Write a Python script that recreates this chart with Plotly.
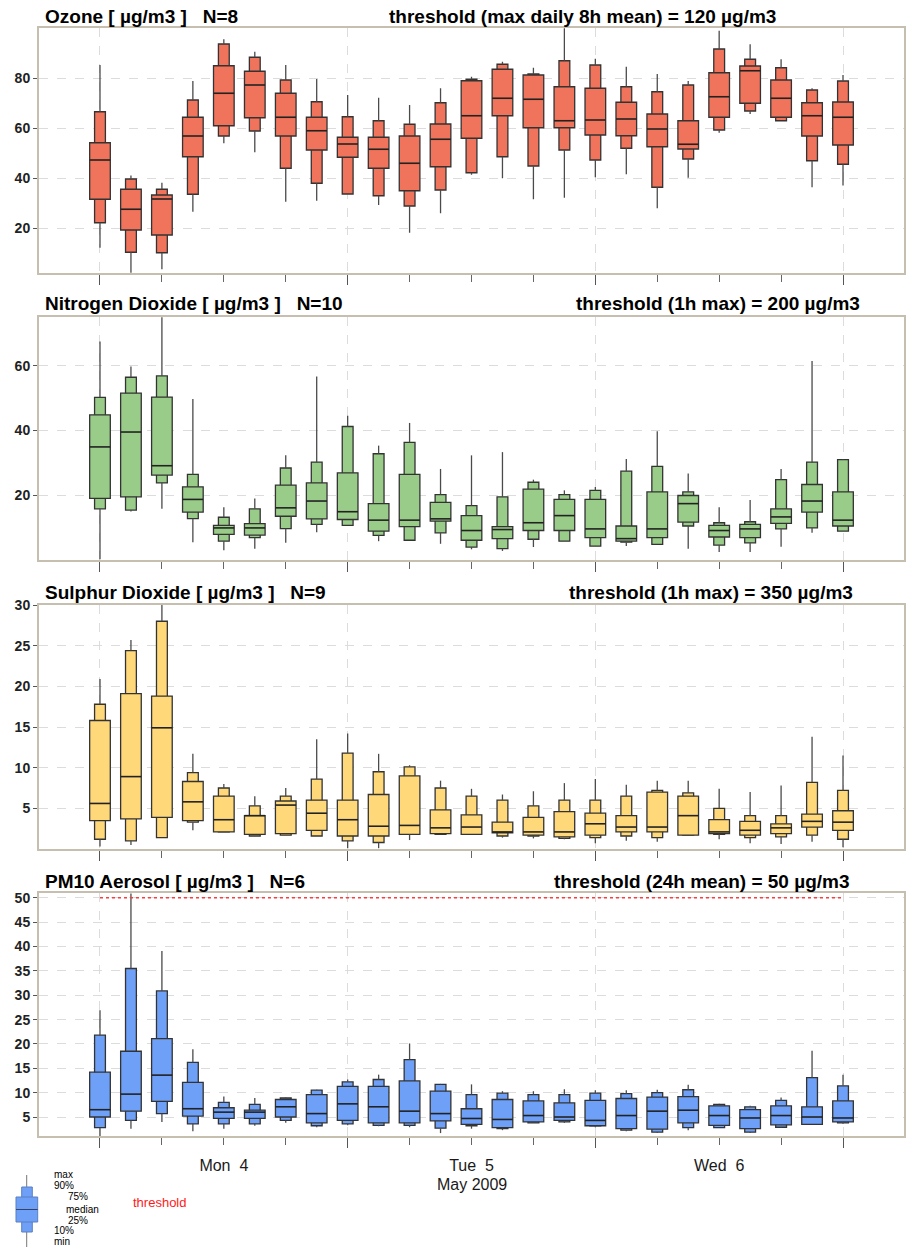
import datetime as dt
import plotly.graph_objects as go
from plotly.subplots import make_subplots

# ---------------- data (3-hourly box statistics, 4-7 May 2009) ----------------
TIMES = ["2009-05-04 00:00", "2009-05-04 03:00", "2009-05-04 06:00", "2009-05-04 09:00",
         "2009-05-04 12:00", "2009-05-04 15:00", "2009-05-04 18:00", "2009-05-04 21:00",
         "2009-05-05 00:00", "2009-05-05 03:00", "2009-05-05 06:00", "2009-05-05 09:00",
         "2009-05-05 12:00", "2009-05-05 15:00", "2009-05-05 18:00", "2009-05-05 21:00",
         "2009-05-06 00:00", "2009-05-06 03:00", "2009-05-06 06:00", "2009-05-06 09:00",
         "2009-05-06 12:00", "2009-05-06 15:00", "2009-05-06 18:00", "2009-05-06 21:00",
         "2009-05-07 00:00"]

O3_MIN = [12.1, 2.1, 3.5, 26.5, 53.9, 50.3, 30.5, 30.9, 33.6, 29.2, 18.1, 25.9, 41.3, 39.9, 31.5, 32.1, 40.3, 41.5, 27.9, 40.1, 58.1, 65.6, 62.9, 36.3, 37.0]
O3_P10 = [22.1, 10.3, 10.1, 33.5, 56.8, 58.8, 43.9, 37.9, 33.6, 32.9, 28.8, 35.2, 42.1, 48.5, 44.8, 51.2, 47.2, 51.9, 36.3, 47.6, 59.2, 66.8, 62.9, 46.9, 45.5]
O3_P25 = [31.5, 19.2, 17.2, 48.5, 60.9, 64.1, 56.8, 51.2, 48.3, 43.9, 34.9, 44.5, 55.9, 64.9, 60.1, 60.1, 57.2, 56.9, 52.5, 51.6, 64.3, 69.9, 64.3, 56.8, 53.2]
O3_MED = [47.2, 27.5, 31.6, 56.8, 73.9, 77.2, 64.3, 58.9, 53.6, 51.5, 45.9, 55.5, 64.9, 71.9, 71.5, 62.9, 63.2, 63.6, 59.6, 53.5, 72.5, 82.9, 71.9, 64.9, 64.3]
O3_P75 = [54.1, 35.5, 33.2, 64.3, 84.9, 82.7, 73.9, 64.3, 56.3, 56.3, 56.8, 61.6, 78.9, 83.5, 81.2, 76.5, 75.9, 70.3, 65.6, 62.9, 82.1, 84.8, 79.2, 70.1, 70.4]
O3_P90 = [66.5, 39.6, 35.5, 71.2, 93.6, 88.3, 79.2, 70.5, 64.5, 62.9, 61.5, 70.1, 79.5, 85.5, 81.6, 86.9, 85.2, 76.5, 74.5, 77.2, 91.6, 87.5, 84.1, 75.2, 78.8]
O3_MAX = [85.2, 41.0, 38.1, 78.8, 95.5, 90.5, 85.2, 79.6, 73.2, 72.1, 69.2, 75.9, 80.5, 86.5, 84.1, 99.9, 87.7, 84.5, 81.6, 78.8, 98.9, 93.5, 87.5, 75.9, 81.2]

NO2_MIN = [0.2, 15.0, 15.8, 5.5, 3.0, 3.5, 5.3, 8.6, 10.7, 5.8, 6.1, 5.0, 3.3, 2.8, 4.0, 5.8, 4.3, 4.3, 4.8, 3.5, 2.5, 2.5, 4.1, 8.4, 8.9]
NO2_P10 = [15.8, 15.4, 23.8, 12.8, 5.8, 6.9, 9.7, 11.0, 10.7, 7.6, 6.1, 8.4, 4.0, 3.5, 6.4, 5.8, 4.3, 5.5, 4.8, 10.5, 4.6, 5.3, 9.6, 9.9, 8.9]
NO2_P25 = [19.0, 19.5, 26.2, 14.8, 7.9, 7.7, 13.5, 12.7, 12.5, 8.9, 10.3, 12.0, 6.1, 6.6, 9.1, 9.1, 6.9, 5.8, 6.9, 11.7, 7.1, 6.9, 11.3, 14.8, 10.5]
NO2_MED = [34.9, 39.5, 29.1, 18.7, 9.9, 9.9, 16.1, 18.2, 14.9, 12.3, 12.3, 12.7, 9.1, 9.4, 11.5, 13.7, 9.6, 6.6, 9.6, 17.4, 9.1, 9.6, 13.3, 18.2, 12.3]
NO2_P75 = [44.8, 51.5, 50.3, 22.6, 10.7, 11.2, 23.1, 23.8, 26.9, 17.4, 26.4, 17.8, 13.7, 10.3, 21.9, 18.7, 18.7, 10.5, 21.0, 19.9, 10.7, 11.0, 15.8, 23.3, 21.0]
NO2_P90 = [50.2, 56.4, 56.8, 26.4, 13.2, 15.8, 28.4, 30.2, 41.2, 32.8, 36.3, 20.2, 16.8, 19.5, 24.0, 20.2, 21.5, 27.4, 28.9, 21.0, 11.5, 11.8, 24.8, 30.2, 31.0]
NO2_MAX = [67.4, 59.7, 74.9, 49.7, 16.3, 19.0, 32.3, 56.6, 44.5, 35.3, 42.3, 28.1, 32.3, 33.3, 24.8, 21.5, 22.5, 31.2, 39.7, 26.7, 16.3, 18.5, 28.1, 61.4, 31.2]

SO2_MIN = [0.3, 0.5, 1.4, 2.3, 2.1, 1.6, 1.7, 1.6, 0.1, 0.1, 1.1, 1.8, 1.8, 1.4, 1.3, 1.2, 0.7, 1.0, 0.9, 1.7, 1.2, 0.7, 0.6, 0.9, 0.2]
SO2_P10 = [1.2, 1.0, 1.4, 3.3, 2.1, 1.6, 1.7, 1.6, 1.0, 0.8, 1.8, 1.8, 1.8, 1.6, 1.6, 1.3, 1.4, 1.6, 1.4, 1.7, 1.8, 1.4, 1.5, 1.7, 1.2]
SO2_P25 = [3.5, 3.7, 3.9, 3.5, 2.1, 1.8, 1.9, 2.3, 1.6, 1.6, 1.8, 1.9, 1.8, 2.0, 1.7, 1.5, 1.7, 2.1, 2.1, 1.7, 1.9, 1.7, 1.9, 2.7, 2.3]
SO2_MED = [5.6, 8.9, 14.9, 5.8, 3.6, 4.1, 5.4, 4.4, 3.6, 2.8, 2.9, 2.6, 2.7, 2.1, 2.1, 2.1, 3.1, 2.7, 2.7, 4.1, 2.1, 2.3, 2.6, 3.4, 3.3]
SO2_P75 = [15.8, 19.1, 18.8, 8.3, 6.5, 4.1, 5.9, 6.0, 6.0, 6.7, 9.0, 4.8, 4.2, 3.3, 3.9, 4.6, 4.4, 4.1, 7.0, 6.5, 3.6, 3.4, 3.1, 4.3, 4.7]
SO2_P90 = [17.8, 24.4, 28.0, 9.4, 7.5, 5.3, 6.5, 8.6, 11.8, 9.5, 10.1, 7.5, 6.5, 6.0, 5.3, 6.0, 6.0, 6.5, 7.2, 6.9, 5.0, 4.1, 4.1, 8.2, 7.2]
SO2_MAX = [20.9, 25.7, 30.1, 11.7, 8.0, 6.5, 7.5, 13.5, 14.2, 11.7, 10.3, 8.4, 7.4, 6.7, 7.1, 8.1, 8.6, 7.9, 8.4, 8.4, 7.4, 7.0, 7.8, 13.8, 11.5]

PM_MIN = [1.0, 2.6, 4.0, 2.1, 2.6, 3.2, 3.8, 2.9, 3.3, 3.1, 2.9, 1.7, 2.6, 2.3, 3.8, 3.8, 2.9, 2.1, 1.7, 2.3, 2.8, 1.7, 2.8, 3.5, 3.6]
PM_P10 = [2.8, 4.3, 5.7, 3.6, 3.6, 3.6, 4.3, 3.2, 3.6, 3.3, 3.3, 2.7, 3.2, 2.6, 3.8, 4.0, 3.2, 2.3, 1.9, 2.8, 2.8, 1.9, 2.9, 3.5, 3.8]
PM_P25 = [5.0, 6.2, 8.2, 5.2, 4.7, 4.7, 5.0, 3.8, 4.3, 3.8, 3.8, 4.2, 3.5, 2.8, 4.0, 4.3, 3.2, 2.6, 2.5, 3.8, 3.3, 2.6, 3.4, 3.5, 4.0]
PM_MED = [6.5, 9.7, 13.6, 6.7, 6.0, 6.0, 7.1, 5.7, 7.7, 7.1, 6.2, 5.7, 4.7, 4.5, 5.3, 5.0, 4.3, 5.3, 6.2, 6.4, 5.3, 4.8, 5.3, 5.0, 4.8]
PM_P75 = [14.2, 18.5, 21.1, 12.1, 6.9, 6.4, 8.6, 9.6, 11.3, 11.3, 12.4, 10.3, 6.7, 8.6, 8.3, 7.9, 8.4, 8.8, 9.1, 9.2, 7.3, 6.5, 7.3, 7.1, 8.3]
PM_P90 = [21.8, 35.5, 30.9, 16.2, 8.0, 7.6, 8.9, 10.5, 12.2, 12.7, 16.8, 11.7, 9.6, 9.9, 9.6, 9.6, 9.9, 9.8, 10.0, 10.6, 7.6, 7.1, 8.4, 13.1, 11.4]
PM_MAX = [26.9, 50.9, 39.1, 18.9, 9.2, 8.9, 9.0, 10.6, 12.7, 13.7, 20.1, 11.8, 11.7, 10.3, 10.3, 10.7, 10.5, 10.5, 10.6, 11.6, 7.7, 7.3, 9.0, 18.6, 13.7]

PM_THRESHOLD = 50

TITLES = ["Ozone [ µg/m3 ]\u00a0\u00a0\u00a0N=8",
          "Nitrogen Dioxide [ µg/m3 ]\u00a0\u00a0\u00a0N=10",
          "Sulphur Dioxide [ µg/m3 ]\u00a0\u00a0\u00a0N=9",
          "PM10 Aerosol [ µg/m3 ]\u00a0\u00a0\u00a0N=6"]
THRESH_TEXT = ["threshold (max daily 8h mean) = 120 µg/m3",
               "threshold (1h max) = 200 µg/m3",
               "threshold (1h max) = 350 µg/m3",
               "threshold (24h mean) = 50 µg/m3"]
Y_TICKS = [[20, 40, 60, 80], [20, 40, 60], [5, 10, 15, 20, 25, 30],
           [5, 10, 15, 20, 25, 30, 35, 40, 45, 50]]
Y_RANGES = [[2, 100], [0, 75], [0, 30], [1.1, 51]]
COLORS = ["#f0735b", "#99cc88", "#ffd87a", "#6ea0f8"]

PANELS = [
    (O3_MIN, O3_P10, O3_P25, O3_MED, O3_P75, O3_P90, O3_MAX),
    (NO2_MIN, NO2_P10, NO2_P25, NO2_MED, NO2_P75, NO2_P90, NO2_MAX),
    (SO2_MIN, SO2_P10, SO2_P25, SO2_MED, SO2_P75, SO2_P90, SO2_MAX),
    (PM_MIN, PM_P10, PM_P25, PM_MED, PM_P75, PM_P90, PM_MAX),
]

# ---------------- layout geometry (pixels) ----------------
W, H = 907, 1247
L, R, T, B = 39, 904, 28, 1136
PANEL_PX = [(28, 273), (317, 560), (605, 849), (893, 1136)]
TITLE_Y = [16, 303, 592, 881]


def pxx(x):
    return (x - L) / (R - L)


def pxy(y):
    return (B - y) / (B - T)


HOUR = 3600 * 1000
WIDE_H = 2.0
NARROW_H = 1.05

times = [dt.datetime.strptime(t, "%Y-%m-%d %H:%M") for t in TIMES]

fig = make_subplots(rows=4, cols=1, shared_xaxes=True)

for i, (mn, p10, p25, med, p75, p90, mx) in enumerate(PANELS):
    row = i + 1
    col = COLORS[i]
    # whiskers (outside the 10-90 band)
    wx, wy = [], []
    for t, a, b, c, d in zip(times, mn, p10, p90, mx):
        wx += [t, t, None, t, t, None]
        wy += [a, b, None, c, d, None]
    fig.add_trace(go.Scatter(x=wx, y=wy, mode="lines",
                             line=dict(color="#4a4a4a", width=1.3),
                             hoverinfo="skip", showlegend=False), row=row, col=1)
    # 10-90 narrow box
    fig.add_trace(go.Bar(x=times, y=[b - a for a, b in zip(p10, p90)], base=p10,
                         width=NARROW_H * HOUR,
                         marker=dict(color=col, line=dict(color="#333333", width=1.3)),
                         showlegend=False), row=row, col=1)
    # 25-75 wide box
    fig.add_trace(go.Bar(x=times, y=[b - a for a, b in zip(p25, p75)], base=p25,
                         width=WIDE_H * HOUR,
                         marker=dict(color=col, line=dict(color="#333333", width=1.3)),
                         showlegend=False), row=row, col=1)
    # median lines
    mxs, mys = [], []
    half = dt.timedelta(hours=WIDE_H / 2)
    for t, m in zip(times, med):
        mxs += [t - half, t + half, None]
        mys += [m, m, None]
    fig.add_trace(go.Scatter(x=mxs, y=mys, mode="lines",
                             line=dict(color="#222222", width=1.6),
                             hoverinfo="skip", showlegend=False), row=row, col=1)

# PM10 threshold line
fig.add_trace(go.Scatter(x=[times[0], times[-1]], y=[PM_THRESHOLD, PM_THRESHOLD],
                         mode="lines", line=dict(color="#ff3b3b", width=1.5, dash="dot"),
                         hoverinfo="skip", showlegend=False), row=4, col=1)

x_start = times[0] - dt.timedelta(hours=5.91)
x_end = times[-1] + dt.timedelta(hours=5.91)

FRAME = "#c6beae"
GRID = "#dcdcdc"

fig.update_xaxes(type="date", range=[x_start, x_end], automargin=False,
                 tickmode="linear", tick0="2009-05-04", dtick=24 * HOUR,
                 ticks="outside", ticklen=10, tickcolor="#555555", tickwidth=1,
                 showgrid=True, gridcolor=GRID, griddash="dash", gridwidth=1,
                 showline=True, linecolor=FRAME, linewidth=2, mirror=True,
                 zeroline=False,
                 minor=dict(tick0="2009-05-04", dtick=6 * HOUR, ticks="outside",
                            ticklen=7, tickcolor="#666666", tickwidth=1, showgrid=False))
fig.update_xaxes(showticklabels=True, ticklabelmode="period", tickformat="%a\u00a0\u00a0%-d",
                 tickfont=dict(family="Liberation Sans, Arial, sans-serif", size=16, color="#1a1a1a"),
                 ticklabelstandoff=4,
                 row=4, col=1)

for i in range(4):
    fig.update_yaxes(range=Y_RANGES[i], tickmode="array", tickvals=Y_TICKS[i], automargin=False,
                     ticks="outside", ticklen=4, tickcolor="#555555",
                     showgrid=True, gridcolor=GRID, griddash="dash", gridwidth=1,
                     showline=True, linecolor=FRAME, linewidth=2, mirror=True,
                     zeroline=False,
                     tickfont=dict(family="Liberation Sans, Arial, sans-serif", size=14,
                                   color="#222222", weight="bold"),
                     row=i + 1, col=1)

doms = {}
for i, (top, bot) in enumerate(PANEL_PX):
    key = "yaxis" if i == 0 else f"yaxis{i + 1}"
    doms[key] = dict(domain=[pxy(bot), pxy(top)])
fig.update_layout(**doms)

annotations = []
TFONT = dict(family="Liberation Sans, Arial, sans-serif", size=19, color="#000000", weight="bold")
for i in range(4):
    annotations.append(dict(x=pxx(43), y=pxy(TITLE_Y[i]), xref="paper", yref="paper",
                            text=TITLES[i], showarrow=False, xanchor="left", yanchor="middle",
                            font=TFONT))
THRESH_X = [(387, "left"), (862, "right"), (855, "right"), (852, "right")]
for i in range(4):
    x, anc = THRESH_X[i]
    annotations.append(dict(x=pxx(x), y=pxy(TITLE_Y[i]), xref="paper", yref="paper",
                            text=THRESH_TEXT[i], showarrow=False, xanchor=anc, yanchor="middle",
                            font=TFONT))
annotations.append(dict(x="2009-05-05 12:00", y=pxy(1184), xref="x4", yref="paper",
                        text="May 2009", showarrow=False, xanchor="center", yanchor="middle",
                        font=dict(family="Liberation Sans, Arial, sans-serif", size=16, color="#1a1a1a")))

# legend key (bottom left)
LFONT = dict(family="Liberation Sans, Arial, sans-serif", size=10, color="#000000")
for txt, x, y in [("max", 52, 1174), ("90%", 52, 1185), ("75%", 66, 1197), ("median", 64, 1209),
                  ("25%", 66, 1220), ("10%", 52, 1231), ("min", 52, 1241)]:
    annotations.append(dict(x=pxx(x), y=pxy(y), xref="paper", yref="paper", text=txt,
                            showarrow=False, xanchor="left", yanchor="middle", font=LFONT))
annotations.append(dict(x=pxx(131), y=pxy(1202), xref="paper", yref="paper", text="threshold",
                        showarrow=False, xanchor="left", yanchor="middle",
                        font=dict(family="Liberation Sans, Arial, sans-serif", size=13, color="#ff1a1a")))

shapes = [
    dict(type="line", xref="paper", yref="paper", x0=pxx(26.7), x1=pxx(26.7),
         y0=pxy(1175), y1=pxy(1247), line=dict(color="#777777", width=1)),
    dict(type="rect", xref="paper", yref="paper", x0=pxx(21.7), x1=pxx(32.3),
         y0=pxy(1232), y1=pxy(1187), fillcolor="#6ea0f8", line=dict(color="#5a7fc0", width=1)),
    dict(type="rect", xref="paper", yref="paper", x0=pxx(16), x1=pxx(37.7),
         y0=pxy(1222), y1=pxy(1197), fillcolor="#6ea0f8", line=dict(color="#5a7fc0", width=1)),
    dict(type="line", xref="paper", yref="paper", x0=pxx(16), x1=pxx(37.7),
         y0=pxy(1209.5), y1=pxy(1209.5), line=dict(color="#334466", width=1)),
]

fig.update_layout(width=W, height=H, margin=dict(l=L, r=W - R, t=T, b=H - B),
                  paper_bgcolor="white", plot_bgcolor="white", barmode="overlay",
                  showlegend=False, annotations=annotations, shapes=shapes,
                  font=dict(family="Liberation Sans, Arial, sans-serif"))

fig.write_html("out.html", config={"displayModeBar": False},
               post_script="document.body.style.margin='0px';")
